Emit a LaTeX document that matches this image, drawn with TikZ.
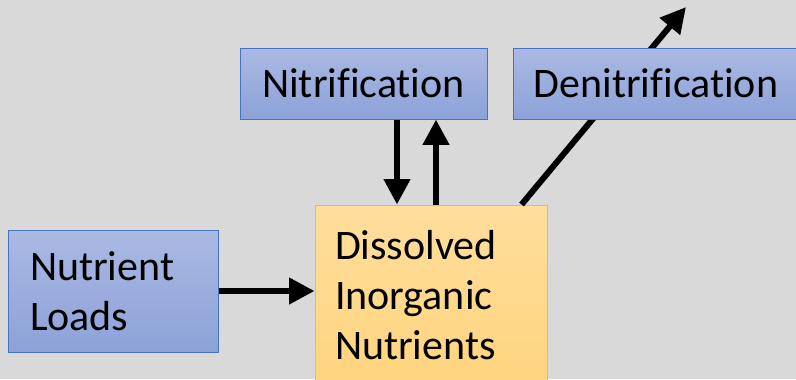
\documentclass[tikz,border=0pt]{standalone}
\usepackage{fontspec}
\setmainfont{Carlito}[Ligatures=CommonOff]
\usetikzlibrary{arrows.meta,calc}
\definecolor{bg}{HTML}{D9D9D9}
\definecolor{bluetop}{HTML}{ABB9E3}
\definecolor{bluebot}{HTML}{8CA2D8}
\definecolor{blueedge}{HTML}{4472C4}
\definecolor{orgtop}{HTML}{FFDE9C}
\definecolor{orgbot}{HTML}{FFD47E}
\definecolor{orgedge}{HTML}{FFC000}

\begin{document}
\begin{tikzpicture}[
  x=0.75pt, y=-0.75pt, >={Triangle[length=19pt,width=19pt]}, line width=4.5pt,
  font=\fontsize{31.5}{37.5}\selectfont,
  bluebox/.style={draw=blueedge, line width=0.75pt, top color=bluetop, bottom color=bluebot, minimum height=53.25pt, inner sep=0pt},
  orgbox/.style={draw=orgedge, line width=0.75pt, top color=orgtop, bottom color=orgbot, align=left, inner xsep=15pt},
]
\useasboundingbox (0,0) rectangle (796,379);
\clip (0,0) rectangle (796,379);
\fill[bg] (0,0) rectangle (796,379);

\node[bluebox, minimum width=185.25pt] (nit) at (363.5,83.5) {Nitrification};
\node[orgbox, text width=144pt, minimum height=135pt] (dis) at (431,295) {Dissolved\\Inorganic\\Nutrients};
\node[bluebox, align=left, inner xsep=16.5pt, text width=124.5pt, minimum height=91.5pt] (loads) at (113,291) {Nutrient\\Loads};
\coordinate (out) at (686,7);

\draw[->] (dis.45) -- (out);
\node[bluebox, minimum width=214.5pt] (denit) at (656,83.5) {Denitrification};

\draw[->] (loads.east) -- (loads.east -| dis.west);
\draw[->] ($(nit.south)+(33.5,0)$) -- ($(nit.south |- dis.north)+(33.5,0)$);
\draw[->] ($(nit.south |- dis.north)+(72.5,0)$) -- ($(nit.south)+(72.5,0)$);
\end{tikzpicture}
\end{document}
